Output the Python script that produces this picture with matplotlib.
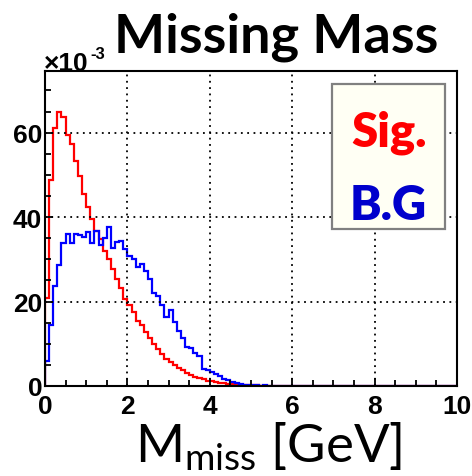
import matplotlib
matplotlib.use("Agg")
import matplotlib.pyplot as plt
from matplotlib.patches import Rectangle
from matplotlib.ticker import MultipleLocator
import numpy as np

# histogram contents (units of 1e-3), 0.1 GeV bins from 0 to 10 GeV
sig = [20.8, 48.8, 61.0, 64.8, 63.6, 59.4, 57.2, 53.3, 49.7, 45.5,
       42.4, 39.5, 36.7, 34.7, 32.0, 30.0, 27.6, 25.4, 23.2, 20.6,
       19.2, 17.5, 15.5, 14.5, 12.8, 11.3, 10.0, 8.8, 7.6, 6.5,
       5.8, 5.0, 4.3, 3.7, 3.1, 2.5, 2.1, 1.9, 1.6, 1.3,
       1.1, 0.9, 0.8, 0.6, 0.5, 0.5, 0.4, 0.3, 0.25, 0.2,
       0.15, 0.12, 0.1, 0.08, 0.06, 0.05, 0.04, 0.03, 0.02, 0.01] + [0.0] * 40
bg = [5.9, 14.4, 23.7, 28.6, 33.8, 35.9, 33.9, 36.1, 35.7, 35.3,
      36.5, 33.8, 36.7, 33.5, 35.0, 37.6, 32.6, 34.2, 34.4, 32.5,
      30.9, 30.0, 28.3, 28.9, 27.3, 25.4, 22.0, 21.4, 19.2, 16.3,
      17.9, 15.1, 13.1, 11.3, 9.2, 9.0, 7.9, 7.0, 4.1, 3.7,
      3.3, 2.9, 2.4, 1.7, 1.4, 0.9, 0.8, 0.4, 0.3, 0.3,
      0.2, 0.2, 0.1, 0.2, 0.1, 0.05, 0.0, 0.0, 0.0, 0.0] + [0.0] * 40
x_min, x_max = 0, 10
y_max = 74.6
xticks = [0, 2, 4, 6, 8, 10]
yticks = [0, 20, 40, 60]

plt.rcParams["mathtext.fontset"] = "custom"
plt.rcParams["mathtext.rm"] = "Lato"

W, H = 472, 477
fig = plt.figure(figsize=(W / 100, H / 100), dpi=100)
ax = fig.add_axes([45 / W, 1 - 387 / H, 412 / W, 315 / H])

edges = np.linspace(x_min, x_max, len(sig) + 1)
ax.stairs(sig, edges, color="#ff0000", lw=1.6)
ax.stairs(bg, edges, color="#0000ff", lw=1.6)

ax.set_xlim(x_min, x_max)
ax.set_ylim(0, y_max)
ax.set_xticks(xticks)
ax.set_yticks(yticks)
ax.xaxis.set_minor_locator(MultipleLocator(0.5))
ax.yaxis.set_minor_locator(MultipleLocator(5))
ax.tick_params(which="both", direction="in", width=1.3)
ax.tick_params(which="major", length=6)
ax.tick_params(which="minor", length=4)
ax.tick_params(axis="x", pad=6)
ax.tick_params(axis="y", pad=2)
for lab in ax.get_xticklabels() + ax.get_yticklabels():
    lab.set_fontfamily("Liberation Sans")
    lab.set_fontweight("bold")
    lab.set_fontsize(19)
for s in ax.spines.values():
    s.set_linewidth(1.5)
ax.grid(True, which="major", color="black", ls=(0, (1, 2.5)), lw=1.3)

def px(x, y):
    return x / W, 1 - y / H

# title
fig.text(*px(276, 52), "Missing Mass", ha="center", va="baseline",
         fontfamily="Lato", fontweight="bold", fontsize=39)

# exponent
fig.text(*px(44, 71), "\u00d710", ha="left", va="baseline",
         fontfamily="Liberation Sans", fontweight="bold", fontsize=19)
fig.text(*px(90, 59), "-3", ha="left", va="baseline",
         fontfamily="Liberation Sans", fontweight="bold", fontsize=12)

# x label
fig.text(*px(269, 462), r"M$_{\mathrm{miss}}$ [GeV]", ha="center", va="baseline",
         fontfamily="Lato", fontsize=38)

# legend box
box = Rectangle(px(332, 230), 113 / W, 145 / H, transform=fig.transFigure,
                facecolor="#fffff4", edgecolor="#808080", lw=1.6, zorder=5)
fig.add_artist(box)
fig.text(*px(389, 133), "Sig.", ha="center", va="center", color="#ff0000",
         fontfamily="Lato", fontweight="heavy", fontsize=34, zorder=6)
fig.text(*px(388, 206), "B.G", ha="center", va="center", color="#0000cc",
         fontfamily="Lato", fontweight="heavy", fontsize=34, zorder=6)

fig.savefig("out.png", dpi=100)
